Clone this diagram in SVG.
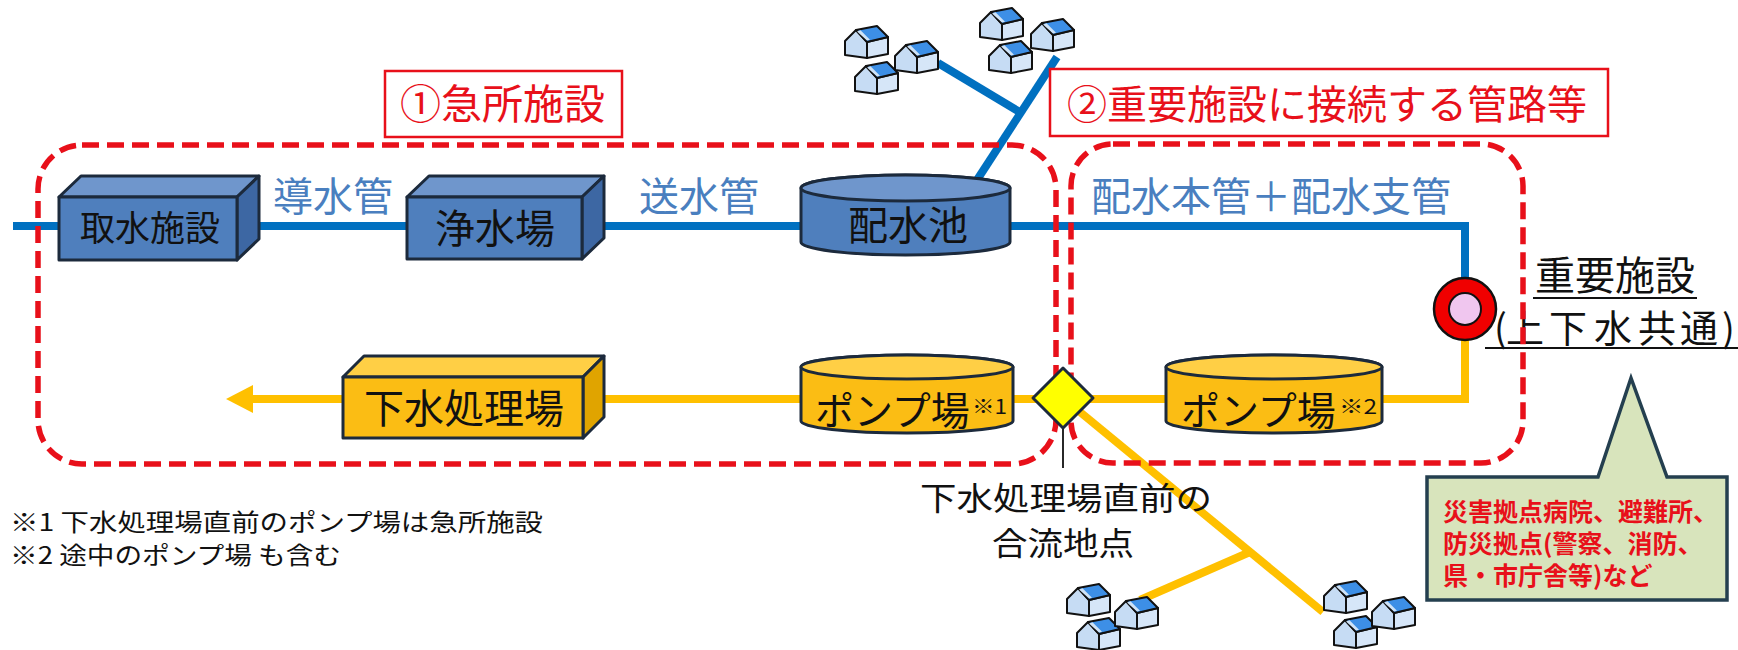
<svg xmlns="http://www.w3.org/2000/svg" xmlns:xlink="http://www.w3.org/1999/xlink" width="1738" height="650" viewBox="0 0 1738 650">
  <defs>
    <style>
      text { font-family: "Noto Sans CJK JP", "Liberation Sans", sans-serif; }
      .pipe-w { fill: none; stroke: #0070c0; stroke-width: 8; }
      .pipe-s { fill: none; stroke: #ffc000; stroke-width: 8; }
      .edge { stroke: #1c2a3c; stroke-width: 3; stroke-linejoin: round; }
      .b-front { fill: #4f7fbd; }
      .b-top { fill: #6f96cc; }
      .b-side { fill: #3d67a3; }
      .y-front { fill: #fbbd14; }
      .y-top { fill: #ffcf45; }
      .y-side { fill: #e0a400; }
      .node-label { font-size: 40px; fill: #111; text-anchor: middle; }
      .pipe-label { font-size: 40px; fill: #4a7fbf; }
      .mark { font-size: 20px; fill: #111; }
      .zone { fill: none; stroke: #e8101a; stroke-width: 5.5; stroke-dasharray: 17 8; }
      .zone-title { fill: #fff; stroke: #e8101a; stroke-width: 2.5; }
      .zone-text { font-size: 41px; fill: #e8101a; }
      .note { font-size: 24px; fill: #111; }
      .callout-text { font-size: 25px; font-weight: 700; fill: #e8101a; }
    </style>
    <marker id="arrow-s" markerWidth="28" markerHeight="30" refX="0" refY="15" orient="auto" markerUnits="userSpaceOnUse">
      <path d="M0,1 L27,15 L0,29 Z" fill="#ffc000"/>
    </marker>
    <symbol id="house" viewBox="0 0 47 35" width="47" height="35" overflow="visible">
      <g stroke="#111" stroke-width="2" stroke-linejoin="round">
        <path d="M2,16 L13,5 L24,17 L24,33 L2,30 Z" fill="#c6dcf4"/>
        <path d="M24,17 L45,12 L45,29 L24,33 Z" fill="#d6e6f8"/>
        <path d="M13,5 L34,1 L45,12 L24,17 Z" fill="#3d8fe6"/>
      </g>
      <path d="M14,6.5 L24,15.5 L27,14.8 L17.5,5.2 Z" fill="#cfe3f7"/>
    </symbol>
  </defs>

  <rect width="1738" height="650" fill="#fff"/>

  <!-- pipes -->
  <g id="connectors">
    <path class="pipe-w" d="M13,226 H1465 V280"/>
    <path class="pipe-w" d="M977,180 L1057,57"/>
    <path class="pipe-w" d="M1018,111 L938,63"/>
    <path class="pipe-s" d="M1465,338 V399 H253" marker-end="url(#arrow-s)"/>
    <path class="pipe-s" d="M1063,398 L1323,612"/>
    <path class="pipe-s" d="M1250,552 L1140,600"/>
    <path d="M1063,427 V468" stroke="#111" stroke-width="1.8" fill="none"/>
  </g>

  <!-- water supply facilities -->
  <g id="intake">
    <path class="b-top edge" d="M59,197 L81,176 L259,176 L237,197 Z"/>
    <path class="b-side edge" d="M237,197 L259,176 L259,239 L237,260 Z"/>
    <rect class="b-front edge" x="59" y="197" width="178" height="63"/>
    <text class="node-label" x="150" y="241" style="font-size:35px">取水施設</text>
  </g>

  <g id="purification">
    <path class="b-top edge" d="M407,197 L429,176 L604,176 L582,197 Z"/>
    <path class="b-side edge" d="M582,197 L604,176 L604,238 L582,259 Z"/>
    <rect class="b-front edge" x="407" y="197" width="175" height="62"/>
    <text class="node-label" x="495" y="243">浄水場</text>
  </g>

  <g id="reservoir">
    <path class="b-front edge" d="M801,188 A104.5,13 0 0 1 1010,188 V242 A104.5,13 0 0 1 801,242 Z"/>
    <ellipse class="b-top edge" cx="905.5" cy="188" rx="104.5" ry="13"/>
    <text class="node-label" x="908" y="240">配水池</text>
  </g>

  <!-- sewerage facilities -->
  <g id="treatment">
    <path class="y-top edge" d="M343,377 L364,356 L604,356 L583,377 Z"/>
    <path class="y-side edge" d="M583,377 L604,356 L604,417 L583,438 Z"/>
    <rect class="y-front edge" x="343" y="377" width="240" height="61"/>
    <text class="node-label" x="464" y="423">下水処理場</text>
  </g>

  <g id="pump-1">
    <path class="y-front edge" d="M801,367 A106,12 0 0 1 1013,367 V421 A106,12 0 0 1 801,421 Z"/>
    <ellipse class="y-top edge" cx="907" cy="367" rx="106" ry="12"/>
    <text x="815" y="425" font-size="39" fill="#111">ポンプ場</text>
    <text class="mark" x="972" y="414" textLength="35" lengthAdjust="spacingAndGlyphs">※1</text>
  </g>

  <g id="pump-2">
    <path class="y-front edge" d="M1166,367 A108,12 0 0 1 1382,367 V421 A108,12 0 0 1 1166,421 Z"/>
    <ellipse class="y-top edge" cx="1274" cy="367" rx="108" ry="12"/>
    <text x="1181" y="425" font-size="39" fill="#111">ポンプ場</text>
    <text class="mark" x="1339" y="414" textLength="38" lengthAdjust="spacingAndGlyphs">※2</text>
  </g>

  <!-- important facility -->
  <g id="key-facility">
    <circle cx="1465" cy="309" r="31" fill="#f00000" stroke="#111" stroke-width="2.5"/>
    <circle cx="1465" cy="309" r="16" fill="#f0c6ef" stroke="#111" stroke-width="2"/>
    <text x="1535" y="290" font-size="40" fill="#111">重要施設</text>
    <line x1="1533" y1="298" x2="1697" y2="298" stroke="#111" stroke-width="2"/>
    <text y="342" font-size="38" fill="#111" x="1494 1506 1549 1594 1638 1680 1722">(上下水共通)</text>
    <line x1="1485" y1="348" x2="1738" y2="348" stroke="#111" stroke-width="2"/>
  </g>

  <!-- pipe names -->
  <g id="pipe-labels">
    <text class="pipe-label" x="273" y="211">導水管</text>
    <text class="pipe-label" x="639" y="211">送水管</text>
    <text class="pipe-label" x="1091" y="211">配水本管＋配水支管</text>
  </g>

  <!-- houses -->
  <g id="houses-north">
    <use xlink:href="#house" href="#house" x="843" y="25" width="47" height="35"/>
    <use xlink:href="#house" href="#house" x="853" y="61" width="47" height="35"/>
    <use xlink:href="#house" href="#house" x="893" y="40" width="47" height="35"/>
    <use xlink:href="#house" href="#house" x="978" y="7" width="47" height="35"/>
    <use xlink:href="#house" href="#house" x="987" y="40" width="47" height="35"/>
    <use xlink:href="#house" href="#house" x="1029" y="18" width="47" height="35"/>
  </g>
  <g id="houses-south-west">
    <use xlink:href="#house" href="#house" x="1065" y="583" width="47" height="35"/>
    <use xlink:href="#house" href="#house" x="1075" y="617" width="47" height="35"/>
    <use xlink:href="#house" href="#house" x="1113" y="596" width="47" height="35"/>
  </g>
  <g id="houses-south-east">
    <use xlink:href="#house" href="#house" x="1322" y="580" width="47" height="35"/>
    <use xlink:href="#house" href="#house" x="1332" y="615" width="47" height="35"/>
    <use xlink:href="#house" href="#house" x="1370" y="596" width="47" height="35"/>
  </g>

  <!-- zones -->
  <g id="zone-critical">
    <rect class="zone" x="38" y="145" width="1018" height="319" rx="44" ry="44"/>
    <rect class="zone-title" x="385" y="71" width="237" height="66"/>
    <text class="zone-text" x="400" y="119">①急所施設</text>
  </g>
  <g id="zone-connected">
    <rect class="zone" x="1071" y="144" width="452" height="319" rx="42" ry="42"/>
    <rect class="zone-title" x="1050" y="69" width="558" height="67"/>
    <text class="zone-text" x="1067" y="119" style="font-size:40px">②重要施設に接続する管路等</text>
  </g>

  <!-- confluence point -->
  <g id="junction">
    <path d="M1063,368 L1093,398 L1063,428 L1033,398 Z" fill="#ffff00" stroke="#1c2a3c" stroke-width="3" stroke-linejoin="round"/>
    <text x="920" y="510" font-size="32" fill="#111" textLength="292" lengthAdjust="spacingAndGlyphs">下水処理場直前の</text>
    <text x="992" y="555" font-size="32" fill="#111" textLength="142" lengthAdjust="spacingAndGlyphs">合流地点</text>
  </g>

  <!-- callout -->
  <g id="callout">
    <path d="M1427,477 H1598 L1631,378 L1667,477 H1727 V600 H1427 Z" fill="#d8e4bc" stroke="#243f4f" stroke-width="3.5" stroke-linejoin="miter"/>
    <text class="callout-text" x="1443" y="521">災害拠点病院、避難所、</text>
    <text class="callout-text" x="1443" y="553">防災拠点(警察、消防、</text>
    <text class="callout-text" x="1443" y="585">県・市庁舎等)など</text>
  </g>

  <!-- notes -->
  <g id="notes">
    <text class="note" x="10" y="531" textLength="533" lengthAdjust="spacingAndGlyphs">※1 下水処理場直前のポンプ場は急所施設</text>
    <text class="note" x="10" y="564" textLength="331" lengthAdjust="spacingAndGlyphs">※2 途中のポンプ場 も含む</text>
  </g>
</svg>
